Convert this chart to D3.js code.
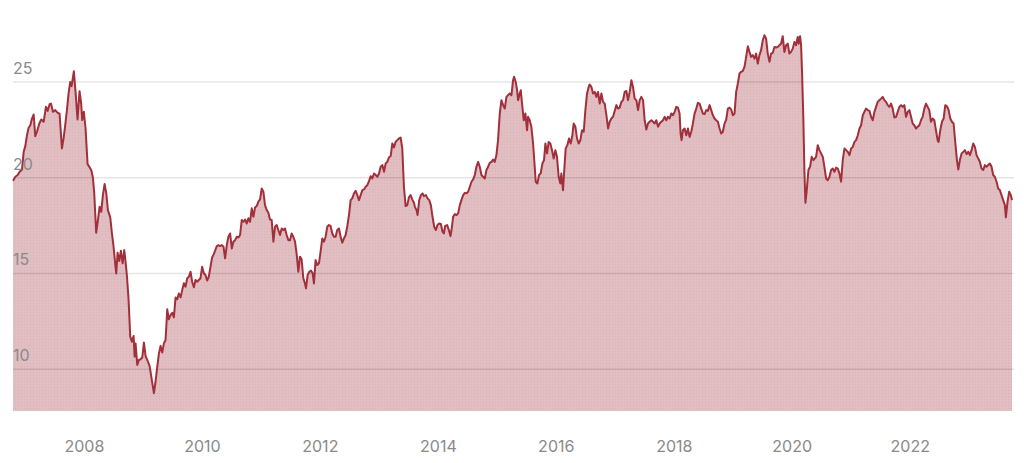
<!DOCTYPE html>
<html>
<head>
<meta charset="utf-8">
<script src="https://cdn.jsdelivr.net/npm/d3@7"></script>
<style>
html,body{margin:0;padding:0;background:#fff;}
svg{display:block;}
text{font-family:Inter,"Noto Sans",sans-serif;}
</style>
</head>
<body>
<svg id="chart" width="1024" height="463"></svg>
<script>
// Decimal years (time of each observation)
const years = [
2006.797,2006.837,2006.876,2006.910,2006.950,2006.978,2007.006,2007.034,2007.062,2007.091,
2007.119,2007.147,2007.175,2007.204,2007.243,2007.277,2007.317,2007.356,2007.384,2007.418,
2007.441,2007.475,2007.514,2007.554,2007.587,2007.627,2007.655,2007.683,2007.712,2007.740,
2007.768,2007.791,2007.830,2007.858,2007.892,2007.926,2007.954,2007.971,2007.999,2008.028,
2008.062,2008.090,2008.124,2008.152,2008.175,2008.208,2008.237,2008.265,2008.293,2008.321,
2008.350,2008.378,2008.406,2008.446,2008.474,2008.502,2008.530,2008.547,2008.570,2008.598,
2008.626,2008.655,2008.683,2008.705,2008.728,2008.756,2008.784,2008.812,2008.841,2008.858,
2008.874,2008.903,2008.931,2008.959,2008.987,2009.016,2009.044,2009.072,2009.112,2009.151,
2009.185,2009.213,2009.242,2009.270,2009.298,2009.326,2009.354,2009.383,2009.411,2009.439,
2009.467,2009.496,2009.524,2009.552,2009.580,2009.608,2009.637,2009.665,2009.693,2009.721,
2009.750,2009.778,2009.806,2009.834,2009.863,2009.891,2009.919,2009.947,2009.975,2010.003,
2010.032,2010.060,2010.088,2010.116,2010.145,2010.173,2010.201,
2010.252,2010.280,2010.308,2010.337,2010.365,2010.393,2010.421,2010.449,2010.478,2010.506,
2010.534,2010.562,2010.591,2010.619,2010.647,2010.675,2010.704,2010.732,2010.760,2010.788,
2010.816,2010.845,2010.873,2010.901,2010.929,2010.958,2010.986,2011.014,2011.042,2011.070,
2011.099,2011.127,2011.155,2011.183,2011.212,2011.240,2011.268,2011.296,2011.324,2011.353,
2011.381,2011.409,2011.437,2011.466,2011.494,2011.522,2011.550,2011.579,2011.607,2011.635,
2011.663,2011.691,2011.720,2011.748,2011.765,2011.793,2011.821,2011.849,2011.878,2011.900,
2011.928,2011.957,2011.985,2012.013,2012.041,2012.070,2012.098,2012.126,2012.154,2012.182,
2012.211,2012.239,2012.267,2012.295,2012.324,2012.352,2012.380,2012.408,2012.437,2012.465,
2012.493,2012.521,2012.549,2012.578,2012.606,2012.634,2012.662,2012.691,2012.719,2012.747,
2012.775,2012.803,2012.832,2012.860,2012.888,2012.916,2012.945,2012.973,2013.001,2013.029,
2013.058,2013.086,2013.114,2013.142,2013.170,2013.199,2013.227,2013.255,2013.283,2013.311,
2013.340,2013.368,2013.396,2013.424,2013.453,2013.481,2013.509,2013.537,2013.565,2013.594,
2013.610,2013.638,2013.655,2013.684,2013.712,2013.740,2013.763,2013.797,2013.825,2013.853,
2013.881,2013.909,2013.938,2013.966,2013.994,2014.022,2014.051,2014.079,2014.101,2014.124,
2014.158,2014.186,2014.214,2014.231,2014.259,2014.288,2014.316,2014.344,2014.372,2014.400,
2014.429,2014.457,2014.485,2014.513,2014.542,2014.570,2014.598,2014.626,2014.654,2014.683,
2014.711,2014.739,2014.767,2014.796,2014.824,2014.852,2014.880,2014.909,2014.937,2014.965,
2014.993,2015.021,
2015.050,2015.078,2015.107,2015.135,2015.163,2015.191,2015.219,2015.248,2015.276,2015.293,
2015.321,2015.344,2015.361,2015.389,2015.406,2015.428,2015.457,2015.485,2015.513,2015.530,
2015.558,2015.586,2015.615,2015.643,2015.660,2015.688,2015.716,2015.744,2015.773,2015.801,
2015.824,2015.852,2015.880,2015.908,2015.936,2015.965,2015.993,2016.021,2016.049,2016.078,
2016.094,2016.123,2016.140,2016.168,2016.196,2016.224,2016.253,2016.281,2016.303,2016.332,
2016.360,2016.388,2016.416,2016.444,2016.473,2016.501,2016.529,2016.557,2016.574,2016.603,
2016.631,2016.659,2016.687,2016.715,2016.744,2016.772,2016.800,2016.828,2016.857,2016.885,
2016.913,2016.941,2016.969,
2017.026,2017.054,2017.082,2017.111,2017.139,2017.167,2017.195,2017.223,2017.252,2017.280,
2017.308,2017.336,2017.365,2017.393,2017.421,2017.449,2017.478,2017.506,2017.534,2017.562,
2017.590,2017.619,2017.647,2017.675,2017.703,2017.732,2017.760,2017.788,2017.816,2017.844,
2017.873,2017.901,2017.929,2017.957,2017.986,2018.014,2018.042,2018.070,2018.098,2018.115,
2018.132,2018.155,2018.183,2018.211,2018.240,2018.268,2018.296,2018.324,2018.352,2018.381,
2018.409,2018.437,2018.465,2018.494,2018.522,2018.550,2018.578,2018.607,2018.635,2018.663,
2018.691,2018.719,2018.748,2018.776,2018.804,2018.832,2018.861,2018.889,2018.917,2018.945,
2018.973,2019.002,2019.030,2019.058,2019.086,2019.115,2019.143,2019.171,2019.199,2019.227,
2019.256,2019.284,2019.312,2019.340,2019.369,2019.397,2019.425,2019.453,2019.481,2019.510,
2019.538,2019.566,2019.594,2019.623,2019.651,2019.679,2019.707,2019.735,2019.764,2019.792,
2019.820,2019.848,2019.876,2019.905,2019.933,2019.961,2019.989,2020.018,2020.046,2020.074,
2020.102,2020.119,2020.142,2020.159,2020.176,2020.198,2020.215,2020.232,2020.255,2020.283,
2020.311,2020.339,2020.368,
2020.413,2020.441,2020.469,2020.498,2020.526,2020.554,2020.582,2020.610,2020.639,2020.667,
2020.695,2020.723,2020.752,2020.780,2020.808,2020.836,2020.864,2020.893,2020.921,2020.949,
2020.977,2021.006,2021.034,2021.062,2021.090,2021.119,2021.147,2021.175,2021.203,2021.231,
2021.260,2021.288,2021.316,2021.344,2021.373,2021.401,2021.429,2021.457,2021.485,2021.514,
2021.542,2021.570,2021.598,2021.627,2021.655,2021.683,2021.711,2021.739,2021.768,2021.796,
2021.824,2021.852,2021.881,2021.909,2021.937,2021.965,2021.994,2022.022,2022.050,2022.078,
2022.106,2022.135,2022.163,2022.191,2022.219,2022.248,2022.276,2022.304,2022.332,2022.360,
2022.389,2022.417,2022.445,2022.473,2022.490,2022.518,2022.547,2022.575,2022.603,2022.631,
2022.660,2022.688,2022.716,2022.744,2022.772,2022.801,2022.823,2022.851,2022.880,2022.908,
2022.936,2022.964,2022.993,2023.021,2023.049,2023.077,2023.106,2023.134,2023.162,2023.190,
2023.218,2023.247,2023.275,2023.303,2023.331,2023.360,2023.388,2023.416,2023.444,2023.473,
2023.501,2023.529,2023.557,2023.585,2023.614,2023.631,2023.659,2023.687,2023.715,2023.735
];
// Series values
const values = [
19.84,20.05,20.14,20.31,20.43,21.35,21.65,22.22,22.61,22.74,
23.09,23.30,22.17,22.40,22.83,23.04,22.92,23.70,23.49,23.84,
23.87,23.44,23.53,23.39,23.35,21.53,22.05,22.74,23.53,24.40,
25.00,24.78,25.56,24.48,23.04,24.52,23.87,23.01,23.44,22.57,
20.71,20.57,20.40,20.01,19.18,17.13,17.79,18.48,18.22,19.09,
19.67,19.21,18.31,17.93,17.09,16.40,15.49,15.00,16.08,15.65,
16.19,15.53,16.22,15.61,14.87,13.62,11.70,11.44,11.74,10.66,
11.35,10.22,10.49,10.52,10.61,11.39,10.69,10.49,10.17,9.41,
8.75,9.36,10.14,10.83,11.22,10.87,11.35,11.53,13.13,12.61,
12.83,12.95,12.71,13.75,13.65,13.96,13.75,14.13,14.49,14.31,
14.75,14.83,15.09,14.57,14.28,14.66,14.57,14.66,14.75,15.35,
15.01,14.92,14.63,14.83,15.35,15.84,16.01,
16.43,16.48,16.43,16.48,16.40,15.79,16.48,16.92,17.09,16.31,
16.66,16.74,16.92,16.88,17.01,17.79,17.70,17.82,17.61,17.88,
17.70,18.40,17.96,18.45,18.52,18.75,18.87,19.44,19.27,18.57,
18.31,18.17,17.82,17.79,16.66,17.44,17.53,17.27,17.01,17.35,
17.27,17.35,17.01,16.74,16.74,17.09,16.92,16.66,16.01,15.09,
15.88,15.74,14.75,14.48,14.22,14.92,15.09,15.15,15.01,14.48,
15.70,15.44,15.53,16.14,16.83,16.66,16.92,17.44,17.53,17.48,
17.09,16.92,16.92,17.27,17.35,16.92,16.61,16.83,17.01,17.48,
18.05,18.83,18.92,19.18,19.32,19.09,18.83,19.09,19.35,19.39,
19.53,19.61,19.82,20.08,19.96,20.22,20.14,20.05,20.22,20.57,
20.66,20.31,20.74,20.83,21.06,21.13,21.79,21.58,21.87,21.96,
22.05,22.10,21.53,19.53,18.52,18.57,18.97,19.09,18.87,18.69,
18.48,18.31,18.05,18.83,19.09,19.18,19.04,19.09,18.92,18.83,
18.57,17.96,17.44,17.27,17.53,17.61,17.58,17.18,17.09,17.48,
17.53,17.27,16.95,17.27,17.96,18.10,18.05,18.14,18.57,18.83,
19.09,19.21,19.18,19.27,19.53,19.79,19.91,20.14,20.57,20.83,
20.57,20.14,20.05,19.96,20.40,20.57,20.78,20.83,20.95,20.83,
21.18,21.96,
23.35,24.05,23.79,23.61,24.22,24.31,24.40,24.31,25.09,25.27,
25.00,24.57,24.05,24.40,24.57,23.87,23.00,23.35,22.48,23.18,
23.00,22.66,21.79,20.57,19.79,19.70,20.14,20.22,20.74,20.92,
21.79,21.27,21.87,21.79,21.44,21.00,21.44,21.09,20.05,19.70,
20.22,19.35,20.22,21.53,21.70,22.05,21.79,22.22,22.83,22.66,
22.05,21.79,21.96,22.48,22.40,23.53,24.40,24.74,24.87,24.74,
24.40,24.48,24.22,24.48,23.87,24.40,23.96,23.87,23.27,22.57,
22.92,23.09,23.18,
23.79,23.61,23.66,23.96,24.05,24.48,24.53,24.05,24.48,25.09,
24.74,24.13,24.05,23.53,24.05,24.22,24.05,23.00,22.52,22.83,
22.92,23.00,22.92,22.83,23.00,22.66,22.83,22.92,23.00,23.18,
23.00,23.18,23.09,23.35,23.26,23.44,23.70,23.66,23.35,22.31,
21.96,22.48,22.57,22.22,22.57,22.13,22.40,22.83,23.35,23.61,
23.91,23.87,23.61,23.35,23.32,23.53,23.49,23.79,23.53,23.26,
23.09,23.00,22.92,22.57,22.31,22.40,22.83,23.04,23.61,23.66,
23.56,23.26,23.35,24.48,24.92,25.44,25.53,25.58,25.79,26.31,
26.86,26.57,26.31,26.40,26.22,26.48,25.96,26.40,26.66,27.18,
27.44,27.26,26.48,26.05,26.48,26.52,26.83,26.80,26.83,26.92,
27.00,27.39,26.57,26.92,27.00,26.48,26.57,26.74,27.09,26.92,
27.35,27.00,27.39,26.92,25.44,23.00,20.40,18.69,19.35,20.40,
20.57,21.09,20.92,
21.09,21.70,21.44,21.27,21.09,20.57,19.96,19.87,20.05,20.40,
20.48,20.31,20.53,20.48,20.22,19.79,20.92,21.53,21.44,21.35,
21.18,21.53,21.61,21.87,21.96,22.22,22.57,22.74,23.26,23.44,
23.61,23.53,23.49,23.18,23.00,23.44,23.70,23.96,24.05,24.13,
24.22,24.05,23.96,23.79,23.70,23.87,23.61,23.14,23.18,23.44,
23.70,23.79,23.70,23.79,23.18,23.44,23.53,23.18,22.83,22.74,
22.57,22.66,22.74,23.00,23.18,23.61,23.87,23.70,23.53,22.92,
23.09,23.00,22.48,21.96,21.87,22.48,22.92,23.09,23.79,23.73,
23.53,23.09,22.92,22.83,21.87,20.92,20.43,20.92,21.27,21.35,
21.44,21.23,21.35,21.18,21.44,21.79,21.61,21.18,21.00,20.83,
20.48,20.40,20.66,20.57,20.66,20.74,20.57,20.14,20.05,19.79,
19.44,19.35,19.09,18.83,18.57,17.93,18.74,19.27,19.09,18.83
];
const yTickValues = [10, 15, 20, 25];
const xTickYears = [2008, 2010, 2012, 2014, 2016, 2018, 2020, 2022];

function decToDate(d) {
  const y = Math.floor(d);
  const a = new Date(y, 0, 1).getTime(), b = new Date(y + 1, 0, 1).getTime();
  return new Date(a + (d - y) * (b - a));
}
const data = years.map((yr, i) => ({date: decToDate(yr), value: values[i]}));

const W = 1024, H = 463;
const plot = {left: 13, right: 1012, top: 24.5, bottom: 411};
const svg = d3.select("#chart");

const x = d3.scaleTime().domain(d3.extent(data, d => d.date)).range([plot.left, plot.right]);
const y = d3.scaleLinear().domain([7.82, 28]).range([plot.bottom, plot.top]);

const defs = svg.append("defs");
const pat = defs.append("pattern").attr("id", "dots").attr("patternUnits", "userSpaceOnUse")
  .attr("width", 3).attr("height", 3);
pat.append("rect").attr("x", 0).attr("y", 0).attr("width", 1).attr("height", 1)
  .attr("fill", "rgba(150,70,80,0.10)");

const area = d3.area().x(d => x(d.date)).y0(plot.bottom).y1(d => y(d.value));
const line = d3.line().x(d => x(d.date)).y(d => y(d.value));

svg.append("path").datum(data).attr("d", area).attr("fill", "#e1bec2");
svg.append("path").datum(data).attr("d", area).attr("fill", "url(#dots)");

// gridlines
svg.append("g").selectAll("line").data(yTickValues).join("line")
  .attr("x1", plot.left).attr("x2", plot.right + 2)
  .attr("y1", d => y(d)).attr("y2", d => y(d))
  .attr("stroke", "rgba(0,0,0,0.1)").attr("stroke-width", 1.6);

svg.append("path").datum(data).attr("d", line)
  .attr("fill", "none").attr("stroke", "#a2303b").attr("stroke-width", 2)
  .attr("stroke-linejoin", "round");

// y labels
svg.append("g").selectAll("text").data(yTickValues).join("text")
  .attr("x", plot.left).attr("y", d => y(d) - 8)
  .attr("fill", "#8a8a8a").attr("font-size", 16)
  .text(d => d);

// x labels
const xAxis = d3.axisBottom(x)
  .tickValues(xTickYears.map(v => new Date(v, 0, 1)))
  .tickFormat(d3.timeFormat("%Y")).tickSize(0).tickPadding(0);
const gx = svg.append("g").attr("transform", `translate(0,${452})`).call(xAxis);
gx.select(".domain").remove();
gx.selectAll("text").attr("fill", "#8a8a8a").attr("font-size", 16)
  .attr("font-family", "Inter, 'Noto Sans', sans-serif").attr("dy", 0);
</script>
</body>
</html>
